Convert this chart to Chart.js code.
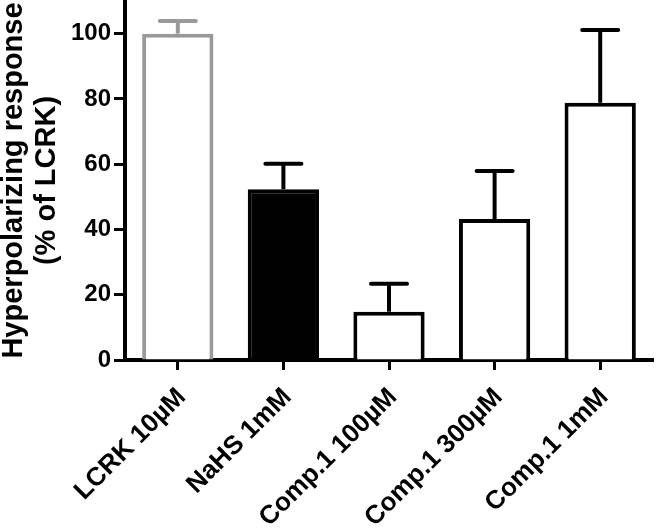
<!DOCTYPE html>
<html>
<head>
<meta charset="utf-8">
<script src="https://cdn.jsdelivr.net/npm/chart.js@4/dist/chart.umd.min.js"></script>
<style>
	html, body { margin: 0; padding: 0; background: #fff; }
	#wrap { width: 656px; height: 529px; }
</style>
</head>
<body>
<div id="wrap"><canvas id="graph" width="656" height="529"></canvas></div>
<script>
// data
const labels = ["LCRK 10\u00b5M", "NaHS 1mM", "Comp.1 100\u00b5M", "Comp.1 300\u00b5M", "Comp.1 1mM"];
const means = [100, 52.3, 14.8, 43.2, 78.8];
const sems = [3.9, 7.8, 8.6, 14.7, 22.3];
const yTicks = [0, 20, 40, 60, 80, 100];

const grey = "#999999";
const fills = ["#ffffff", "#000000", "#ffffff", "#ffffff", "#ffffff"];
const strokes = [grey, "#000000", "#000000", "#000000", "#000000"];
const fontFam = "'Liberation Sans', Arial, Helvetica, sans-serif";

// upward-only error bars with caps
const errorBars = {
	id: "errorBars",
	afterDatasetsDraw(chart) {
		const ctx = chart.ctx;
		const y = chart.scales.y;
		const meta = chart.getDatasetMeta(0);
		ctx.save();
		meta.data.forEach((bar, i) => {
			const top = y.getPixelForValue(means[i] + sems[i]);
			ctx.strokeStyle = strokes[i];
			ctx.lineWidth = 4;
			ctx.lineCap = "butt";
			ctx.beginPath();
			ctx.moveTo(bar.x, bar.y);
			ctx.lineTo(bar.x, top);
			ctx.stroke();
			ctx.lineCap = "round";
			ctx.beginPath();
			ctx.moveTo(bar.x - 18, top);
			ctx.lineTo(bar.x + 18, top);
			ctx.stroke();
		});
		ctx.restore();
	},
};

const ctx = document.getElementById("graph").getContext("2d");
const barChart = new Chart(ctx, {
	type: "bar",
	data: {
		labels: labels,
		datasets: [
			{
				data: means,
				backgroundColor: fills,
				borderColor: strokes,
				borderWidth: 4,
				borderSkipped: "bottom",
				categoryPercentage: 1,
				barPercentage: 0.675,
			},
		],
	},
	options: {
		responsive: false,
		animation: false,
		layout: { padding: { top: 1, right: 3, left: 0, bottom: 0 } },
		plugins: {
			legend: { display: false },
			tooltip: { enabled: false },
		},
		scales: {
			x: {
				grid: {
					offset: false,
					drawOnChartArea: false,
					tickLength: 10,
					tickWidth: 3,
					tickColor: "#000",
				},
				border: { display: true, width: 4, color: "#000" },
				ticks: {
					color: "#000",
					font: { family: fontFam, size: 26, weight: "bold" },
					minRotation: 45,
					maxRotation: 45,
					padding: 12,
					labelOffset: 4,
					autoSkip: false,
				},
				afterFit: (axis) => {
					axis.height = 169;
					axis.paddingLeft = 0;
					axis.paddingRight = 0;
				},
			},
			y: {
				min: 0,
				max: 110,
				grid: {
					drawOnChartArea: false,
					tickLength: 11,
					tickWidth: 3,
					tickColor: "#000",
				},
				border: { display: true, width: 4, color: "#000" },
				afterBuildTicks: (axis) => {
					axis.ticks = yTicks.map((v) => ({ value: v }));
				},
				ticks: {
					color: "#000",
					font: { family: fontFam, size: 24, weight: "bold" },
					padding: 3,
				},
				title: {
					display: true,
					text: ["Hyperpolarizing response", "(% of LCRK)"],
					color: "#000",
					font: { family: fontFam, size: 29, weight: "bold", lineHeight: 1.14 },
					padding: { top: -3, bottom: 0 },
				},
				afterFit: (axis) => {
					axis.width = 125;
					axis.paddingTop = 0;
					axis.paddingBottom = 0;
				},
			},
		},
	},
	plugins: [errorBars],
});
</script>
</body>
</html>
